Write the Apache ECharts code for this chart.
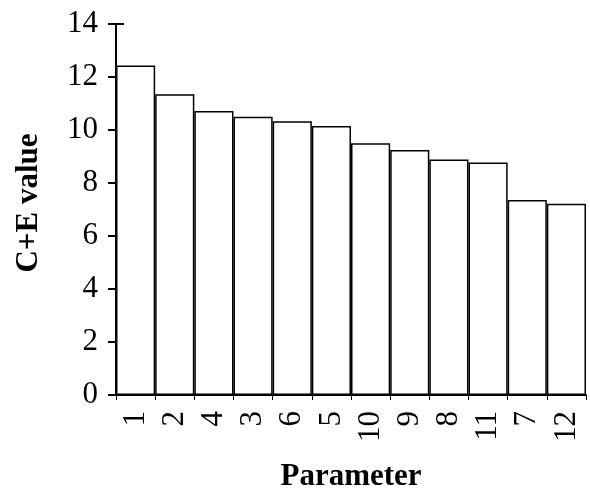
<!DOCTYPE html>
<html>
<head>
<meta charset="utf-8">
<script src="https://cdn.jsdelivr.net/npm/echarts@6/dist/echarts.min.js"></script>
<style>
html,body{margin:0;padding:0;background:#fff;}
#chart{width:590px;height:492px;}
</style>
</head>
<body>
<div id="chart"></div>
<script>
var categories = ['1','2','4','3','6','5','10','9','8','11','7','12'];
var values = [12.43, 11.35, 10.72, 10.5, 10.33, 10.15, 9.5, 9.25, 8.89, 8.77, 7.36, 7.22];
var yTicks = [0, 2, 4, 6, 8, 10, 12, 14];
var yTitle = 'C+E value';
var xTitle = 'Parameter';

var FONT = "'Liberation Serif','Times New Roman',serif";
var chart = echarts.init(document.getElementById('chart'));
chart.setOption({
  backgroundColor: '#fff',
  animation: false,
  grid: {left: 116, right: 4, top: 24, bottom: 97},
  xAxis: {
    type: 'category',
    data: categories,
    axisLine: {lineStyle: {color: '#000', width: 2}},
    axisTick: {show: true, interval: 0, alignWithLabel: false, length: 5, lineStyle: {color: '#000', width: 1}},
    axisLabel: {interval: 0, rotate: 90, margin: 16, color: '#000', fontFamily: FONT, fontSize: 31},
    splitLine: {show: false}
  },
  yAxis: [{
    type: 'value',
    position: 'left',
    min: yTicks[0],
    max: yTicks[yTicks.length - 1],
    interval: 2,
    axisLine: {show: true, lineStyle: {color: '#000', width: 2}},
    axisTick: {show: true, length: 8, lineStyle: {color: '#000', width: 2}},
    axisLabel: {margin: 18, color: '#000', fontFamily: FONT, fontSize: 31},
    splitLine: {show: false}
  }, {
    type: 'value',
    position: 'left',
    min: yTicks[0],
    max: yTicks[yTicks.length - 1],
    interval: 2,
    axisLine: {show: false},
    axisTick: {show: true, inside: true, length: 8, lineStyle: {color: '#000', width: 2}},
    axisLabel: {show: false},
    splitLine: {show: false}
  }],
  series: [{
    type: 'bar',
    data: values,
    barCategoryGap: '0%',
    itemStyle: {color: '#fff', borderColor: '#000', borderWidth: 1.5},
    z: 1
  }],
  graphic: [{
    type: 'text',
    id: 'yt',
    rotation: Math.PI / 2,
    x: 29, y: 203,
    style: {text: yTitle, font: 'bold 31px ' + FONT, fill: '#000', align: 'center', verticalAlign: 'middle'}
  }, {
    type: 'text',
    id: 'xt',
    x: 351, y: 477,
    style: {text: xTitle, font: 'bold 31px ' + FONT, fill: '#000', align: 'center', verticalAlign: 'middle'}
  }]
});
</script>
</body>
</html>
